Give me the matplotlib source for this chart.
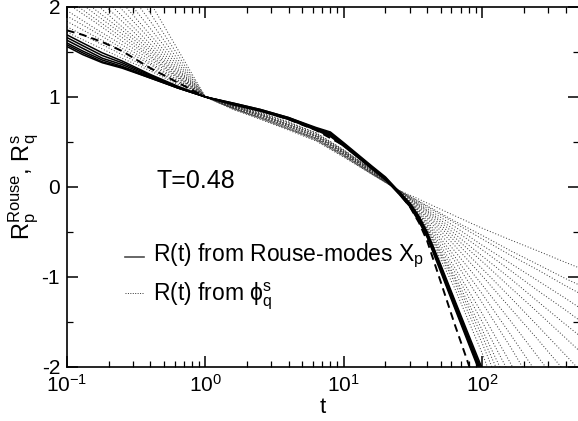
import matplotlib
matplotlib.use("Agg")
import matplotlib.pyplot as plt
from matplotlib.lines import Line2D
from matplotlib.ticker import MultipleLocator

plt.rcParams['font.family'] = ['Liberation Sans', 'DejaVu Sans']
plt.rcParams['mathtext.default'] = 'regular'
plt.rcParams['axes.unicode_minus'] = False

# ---------------- data ----------------
# Rouse-mode curves (solid)
t_rouse = [0.1, 0.13, 0.18, 0.25, 0.4, 0.63, 1, 1.6, 2.5, 4, 6.3, 8, 10, 16, 20, 25, 30, 35, 40, 50, 63, 80, 100, 130]
rouse_p1 = [1.69, 1.60, 1.49, 1.40, 1.25, 1.12, 1.00, 0.93, 0.86, 0.77, 0.66, 0.61, 0.49, 0.23, 0.11, -0.05, -0.18, -0.33, -0.50, -0.86, -1.25, -1.65, -2.02, -2.50]
rouse_p2 = [1.66, 1.57, 1.46, 1.38, 1.24, 1.11, 1.00, 0.93, 0.86, 0.77, 0.65, 0.60, 0.48, 0.22, 0.10, -0.06, -0.19, -0.35, -0.52, -0.88, -1.27, -1.68, -2.05, -2.50]
rouse_p3 = [1.63, 1.54, 1.43, 1.36, 1.23, 1.11, 1.00, 0.92, 0.85, 0.76, 0.65, 0.59, 0.47, 0.21, 0.09, -0.06, -0.20, -0.36, -0.53, -0.90, -1.29, -1.70, -2.08, -2.55]
rouse_p4 = [1.60, 1.51, 1.41, 1.34, 1.22, 1.10, 1.00, 0.92, 0.85, 0.76, 0.64, 0.58, 0.46, 0.21, 0.09, -0.07, -0.21, -0.37, -0.54, -0.91, -1.31, -1.72, -2.10, -2.55]
rouse_p5 = [1.58, 1.49, 1.39, 1.33, 1.21, 1.10, 1.00, 0.92, 0.85, 0.75, 0.64, 0.57, 0.46, 0.20, 0.08, -0.07, -0.21, -0.38, -0.55, -0.92, -1.32, -1.73, -2.11, -2.60]
rouse_p6 = [1.56, 1.47, 1.38, 1.32, 1.21, 1.10, 1.00, 0.91, 0.84, 0.75, 0.63, 0.56, 0.45, 0.20, 0.08, -0.08, -0.22, -0.39, -0.56, -0.94, -1.34, -1.75, -2.13, -2.60]

# dashed curve
t_dash = [0.1, 0.13, 0.18, 0.25, 0.4, 0.63, 1, 1.6, 2.5, 4, 6.3, 10, 16, 20, 25, 30, 35, 40, 50, 63, 80, 100]
dash_vals = [1.74, 1.69, 1.61, 1.51, 1.32, 1.16, 1.00, 0.92, 0.85, 0.75, 0.63, 0.46, 0.21, 0.09, -0.07, -0.22, -0.40, -0.60, -1.05, -1.52, -1.98, -2.45]

# phi_q^s curves (dotted)
t_phi = [0.1, 0.16, 0.25, 0.4, 0.63, 1, 1.6, 2.5, 4, 6.3, 10, 16, 25, 32, 40, 63, 100, 160, 250, 400, 500]
phi_q01 = [1.72, 1.57, 1.43, 1.29, 1.14, 1.00, 0.90, 0.83, 0.72, 0.60, 0.41, 0.19, -0.05, -0.24, -0.50, -1.12, -1.85, -2.68, -3.52, -4.46, -4.92]
phi_q02 = [1.78, 1.62, 1.47, 1.31, 1.16, 1.00, 0.90, 0.82, 0.72, 0.60, 0.41, 0.19, -0.05, -0.23, -0.48, -1.06, -1.74, -2.50, -3.26, -4.12, -4.54]
phi_q03 = [1.84, 1.67, 1.51, 1.33, 1.17, 1.00, 0.90, 0.82, 0.71, 0.59, 0.40, 0.19, -0.05, -0.23, -0.47, -1.02, -1.66, -2.37, -3.08, -3.87, -4.26]
phi_q04 = [1.90, 1.72, 1.54, 1.36, 1.18, 1.00, 0.90, 0.81, 0.70, 0.58, 0.40, 0.18, -0.05, -0.23, -0.46, -0.99, -1.59, -2.25, -2.92, -3.65, -4.01]
phi_q05 = [1.96, 1.76, 1.58, 1.38, 1.19, 1.00, 0.89, 0.81, 0.70, 0.58, 0.39, 0.18, -0.05, -0.23, -0.44, -0.94, -1.50, -2.10, -2.71, -3.37, -3.70]
phi_q06 = [2.04, 1.83, 1.62, 1.41, 1.21, 1.00, 0.89, 0.80, 0.69, 0.57, 0.39, 0.18, -0.05, -0.22, -0.42, -0.89, -1.41, -1.96, -2.52, -3.12, -3.42]
phi_q07 = [2.09, 1.87, 1.66, 1.44, 1.22, 1.00, 0.89, 0.80, 0.69, 0.57, 0.38, 0.17, -0.05, -0.21, -0.40, -0.82, -1.29, -1.78, -2.28, -2.81, -3.07]
phi_q08 = [2.16, 1.92, 1.70, 1.46, 1.23, 1.00, 0.89, 0.80, 0.68, 0.56, 0.38, 0.17, -0.05, -0.20, -0.38, -0.77, -1.19, -1.64, -2.08, -2.56, -2.79]
phi_q09 = [2.22, 1.97, 1.74, 1.49, 1.25, 1.00, 0.88, 0.79, 0.68, 0.56, 0.38, 0.17, -0.05, -0.19, -0.35, -0.71, -1.09, -1.49, -1.88, -2.30, -2.51]
phi_q10 = [2.30, 2.04, 1.78, 1.52, 1.26, 1.00, 0.88, 0.79, 0.67, 0.55, 0.37, 0.16, -0.04, -0.18, -0.33, -0.65, -0.99, -1.35, -1.69, -2.06, -2.24]
phi_q11 = [2.39, 2.11, 1.84, 1.55, 1.28, 1.00, 0.88, 0.78, 0.67, 0.55, 0.37, 0.16, -0.04, -0.17, -0.31, -0.60, -0.91, -1.23, -1.54, -1.87, -2.03]
phi_q12 = [2.49, 2.19, 1.90, 1.59, 1.30, 1.00, 0.88, 0.78, 0.66, 0.54, 0.36, 0.16, -0.04, -0.16, -0.29, -0.56, -0.83, -1.12, -1.39, -1.68, -1.82]
phi_q13 = [2.61, 2.28, 1.97, 1.64, 1.32, 1.00, 0.87, 0.77, 0.66, 0.54, 0.36, 0.15, -0.04, -0.16, -0.27, -0.52, -0.77, -1.02, -1.27, -1.53, -1.65]
phi_q14 = [2.75, 2.39, 2.05, 1.69, 1.35, 1.00, 0.87, 0.77, 0.65, 0.53, 0.35, 0.15, -0.04, -0.15, -0.26, -0.48, -0.70, -0.93, -1.15, -1.37, -1.48]
phi_q15 = [2.91, 2.52, 2.15, 1.76, 1.38, 1.00, 0.87, 0.77, 0.65, 0.53, 0.35, 0.15, -0.04, -0.14, -0.24, -0.44, -0.65, -0.85, -1.04, -1.24, -1.34]
phi_q16 = [3.10, 2.67, 2.26, 1.84, 1.42, 1.00, 0.87, 0.76, 0.64, 0.52, 0.34, 0.14, -0.04, -0.13, -0.22, -0.40, -0.58, -0.76, -0.92, -1.10, -1.18]
phi_q17 = [3.34, 2.86, 2.41, 1.93, 1.47, 1.00, 0.86, 0.76, 0.64, 0.52, 0.34, 0.14, -0.04, -0.13, -0.21, -0.38, -0.54, -0.71, -0.86, -1.02, -1.09]
phi_q18 = [3.65, 3.11, 2.59, 2.05, 1.53, 1.00, 0.86, 0.75, 0.63, 0.51, 0.33, 0.14, -0.04, -0.11, -0.18, -0.32, -0.46, -0.59, -0.71, -0.84, -0.90]

y_ticks = [-2, -1, 0, 1, 2]

rouse_curves = [rouse_p1, rouse_p2, rouse_p3, rouse_p4, rouse_p5, rouse_p6]
phi_curves = [phi_q01, phi_q02, phi_q03, phi_q04, phi_q05, phi_q06, phi_q07, phi_q08, phi_q09,
              phi_q10, phi_q11, phi_q12, phi_q13, phi_q14, phi_q15, phi_q16, phi_q17, phi_q18]

# ---------------- figure ----------------
fig = plt.figure(figsize=(5.78, 4.21), dpi=100)
ax = fig.add_axes([0.1159, 0.129, 0.8857, 0.8544])

for ys in phi_curves:
    ax.plot(t_phi, ys, color='0.2', lw=0.7, ls=(0, (1, 2)))
for ys in rouse_curves:
    ax.plot(t_rouse, ys, color='k', lw=1.1)
ax.plot(t_dash, dash_vals, color='k', lw=1.4, ls=(0, (4, 2.5)))

ax.set_xscale('log')
ax.set_xlim(0.1, 500)
ax.set_ylim(-2, 2)
ax.set_yticks(y_ticks)
ax.yaxis.set_minor_locator(MultipleLocator(0.5))

ax.tick_params(which='both', direction='in', top=True, right=True, labelsize=15)
ax.tick_params(which='major', length=8, width=1.1, pad=5)
ax.tick_params(which='minor', length=4.5, width=0.9)
for s in ax.spines.values():
    s.set_linewidth(1.2)
ax.spines['right'].set_visible(False)

ax.set_xlabel('t', fontsize=16, labelpad=1)
ax.set_ylabel(r'R$_p^{Rouse}$, R$^s_q$', fontsize=17)
ax.yaxis.set_label_coords(-0.05, 0.5)

ax.text(0.174, 0.516, 'T=0.48', transform=ax.transAxes, fontsize=18, va='center')

# legend (manual)
ax.add_line(Line2D([0.113, 0.151], [0.305, 0.305], transform=ax.transAxes, color='0.3', lw=1.2))
ax.add_line(Line2D([0.113, 0.151], [0.206, 0.206], transform=ax.transAxes, color='0.2', lw=0.7, ls=(0, (1, 1.5))))
ax.text(0.168, 0.294, 'R(t) from Rouse-modes X$_p$', transform=ax.transAxes, fontsize=16.5, va='baseline')
ax.text(0.168, 0.185, r'R(t) from $\phi^s_q$', transform=ax.transAxes, fontsize=16.5, va='baseline')

fig.savefig('out.png', dpi=100)
